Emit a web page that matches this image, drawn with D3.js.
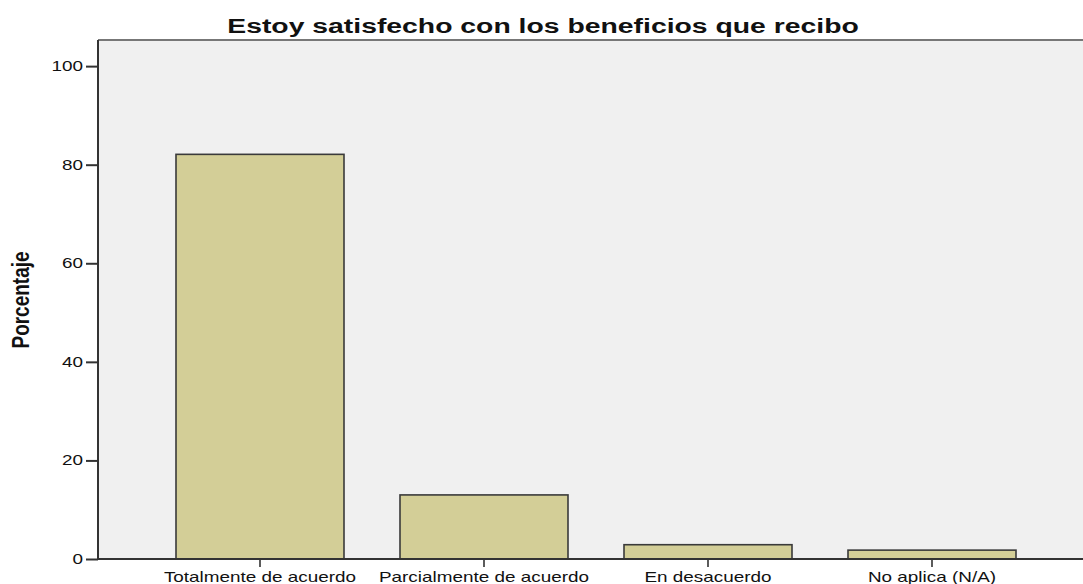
<!DOCTYPE html>
<html>
<head>
<meta charset="utf-8">
<script src="https://cdn.jsdelivr.net/npm/d3@7"></script>
<style>
  body { margin: 0; background: #fff; }
  text { font-family: "Liberation Sans", Arial, sans-serif; }
</style>
</head>
<body>
<div id="chart"></div>
<script>
// data
var categories = ["Totalmente de acuerdo", "Parcialmente de acuerdo", "En desacuerdo", "No aplica (N/A)"];
var percents = [82.1, 13.0, 2.9, 1.8];
var yTicks = [0, 20, 40, 60, 80, 100];
var title = "Estoy satisfecho con los beneficios que recibo";
var yLabel = "Porcentaje";

var W = 1083, H = 584;
var sx = 1.35; // the reference text is stretched sideways

var svg = d3.select("#chart")
  .append("svg")
    .attr("width", W)
    .attr("height", H);

var plot = {left: 98, right: 1094, top: 40, bottom: 559};

var x = d3.scaleBand()
    .domain(categories)
    .range([148, 1044])
    .paddingInner(0.25)
    .paddingOuter(0.125);

var y = d3.scaleLinear()
    .domain([0, 105.3])
    .range([plot.bottom, plot.top]);

// plot background
svg.append("rect")
    .attr("x", plot.left)
    .attr("y", plot.top)
    .attr("width", plot.right - plot.left)
    .attr("height", plot.bottom - plot.top)
    .style("fill", "#f0f0f0");

// top frame line
svg.append("line")
    .attr("x1", plot.left).attr("x2", plot.right)
    .attr("y1", plot.top).attr("y2", plot.top)
    .style("stroke", "#777")
    .style("stroke-width", 2);

// bars
svg.selectAll(".bar")
  .data(percents)
  .enter().append("rect")
    .attr("class", "bar")
    .attr("x", function(d, i) { return x(categories[i]); })
    .attr("y", function(d) { return y(d); })
    .attr("width", x.bandwidth())
    .attr("height", function(d) { return y(0) - y(d); })
    .style("fill", "#d3ce97")
    .style("stroke", "#3a3a3a")
    .style("stroke-width", 1.6);

// y axis
var yAxis = svg.append("g")
    .attr("transform", "translate(" + plot.left + ",0)")
    .call(d3.axisLeft(y).tickValues(yTicks).tickSize(12).tickPadding(3).tickSizeOuter(0));
yAxis.select(".domain").remove();
yAxis.append("line")
    .attr("x1", 0).attr("x2", 0)
    .attr("y1", plot.top).attr("y2", plot.bottom)
    .style("stroke", "#333").style("stroke-width", 2);
yAxis.selectAll(".tick line").style("stroke", "#333").style("stroke-width", 2);
yAxis.selectAll(".tick text")
    .style("font-size", "14px")
    .style("fill", "#111")
    .attr("transform", function() {
      var tx = -15;
      return "translate(" + tx + ",0) scale(" + sx + ",1) translate(" + (-tx) + ",0)";
    });

// x axis
var xAxis = svg.append("g")
    .attr("transform", "translate(0," + plot.bottom + ")")
    .call(d3.axisBottom(x).tickSize(8).tickPadding(5).tickSizeOuter(0));
xAxis.select(".domain").remove();
xAxis.append("line")
    .attr("x1", plot.left).attr("x2", plot.right)
    .attr("y1", 0).attr("y2", 0)
    .style("stroke", "#333").style("stroke-width", 2);
xAxis.selectAll(".tick line").style("stroke", "#333").style("stroke-width", 1.6);
xAxis.selectAll(".tick text")
    .style("font-size", "14px")
    .style("fill", "#111")
    .attr("transform", "scale(" + sx + ",1)");

// title
svg.append("text")
    .attr("transform", "translate(543,33) scale(" + sx + ",1)")
    .attr("text-anchor", "middle")
    .style("font-size", "21px")
    .style("font-weight", "bold")
    .style("fill", "#111")
    .text(title);

// y label
svg.append("text")
    .attr("transform", "translate(29,300) scale(1.3,1) rotate(-90)")
    .attr("text-anchor", "middle")
    .style("font-size", "19px")
    .style("font-weight", "bold")
    .style("fill", "#111")
    .text(yLabel);
</script>
</body>
</html>
